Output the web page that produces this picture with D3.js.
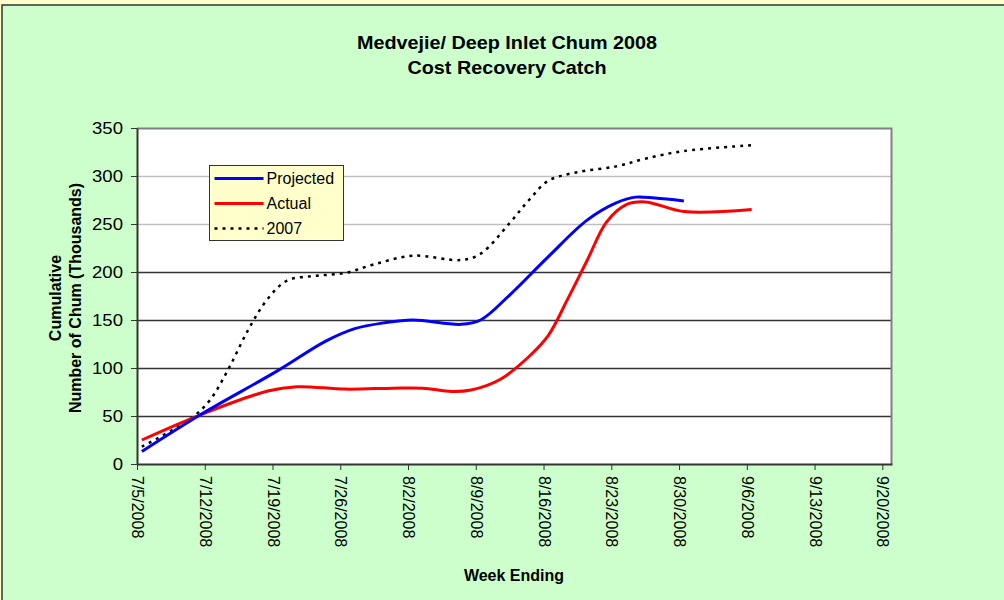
<!DOCTYPE html>
<html lang="en">
<head>
  <meta charset="UTF-8">
  <title>Medvejie/ Deep Inlet Chum 2008</title>
  <style>
    * { margin: 0; }
    body { background: #fff; font-family: "Liberation Sans", Arial, Helvetica, sans-serif; }
    svg { display: block; }
    .tick text { font-size: 16px; fill: #000; }
  </style>
</head>
<body>
  <div id="chart"></div>
  <script src="https://cdnjs.cloudflare.com/ajax/libs/d3/7.8.5/d3.min.js"></script>
  <script>
    // week ending tick labels and y ticks
    const weekTicks = ['7/5/2008', '7/12/2008', '7/19/2008', '7/26/2008', '8/2/2008', '8/9/2008',
      '8/16/2008', '8/23/2008', '8/30/2008', '9/6/2008', '9/13/2008', '9/20/2008'];
    const yTicks = [0, 50, 100, 150, 200, 250, 300, 350];

    // Projected (thousands)
    const projDates = ['7/5/2008', '7/11/2008', '7/19/2008', '7/24/2008', '7/27/2008', '7/30/2008',
      '8/2/2008', '8/7/2008', '8/9/2008', '8/12/2008', '8/16/2008', '8/20/2008', '8/23/2008',
      '8/25/2008', '8/27/2008', '8/30/2008'];
    const projValues = [13, 51, 97, 128, 141, 147, 150, 145.5, 150, 176, 216, 254, 272, 278, 277, 274];

    // Actual (thousands)
    const actDates = ['7/5/2008', '7/11/2008', '7/18/2008', '7/21/2008', '7/26/2008',
      '7/31/2008', '8/3/2008', '8/6/2008', '8/8/2008', '8/11/2008', '8/14/2008', '8/16/2008',
      '8/18/2008', '8/20/2008', '8/22/2008', '8/24/2008', '8/26/2008', '8/30/2008', '9/6/2008'];
    const actValues = [25, 51, 76, 80.5, 78, 79, 79, 75.5, 77, 88, 112, 134, 172, 212, 252, 270, 273, 263, 265];

    // 2007 (thousands)
    const prevDates = ['7/5/2008', '7/10/2008', '7/12/2008', '7/14/2008', '7/16/2008', '7/18/2008',
      '7/20/2008', '7/23/2008', '7/26/2008', '7/29/2008', '8/2/2008', '8/7/2008', '8/9/2008',
      '8/12/2008', '8/14/2008', '8/16/2008', '8/19/2008', '8/23/2008', '8/26/2008', '8/30/2008', '9/6/2008'];
    const prevValues = [18, 47, 66, 100, 140, 172, 191, 196, 199, 208, 217, 212.5, 219, 251, 275, 295, 304, 310, 318, 326, 332];

    const parse = d3.timeParse('%m/%d/%Y');
    const width = 1004, height = 600;
    const plot = { left: 137, top: 128, right: 892, bottom: 464 };

    const svg = d3.select('#chart')
      .append('svg')
      .attr('width', width)
      .attr('height', height);

    // chart area
    svg.append('rect').attr('width', width).attr('height', height).attr('fill', '#ffffcc');
    svg.append('rect')
      .attr('x', 2).attr('y', 5)
      .attr('width', width + 10).attr('height', height + 10)
      .attr('fill', '#ccffcc')
      .attr('stroke', '#333').attr('stroke-width', 1.5);

    const x = d3.scaleTime()
      .domain([parse('7/5/2008'), parse('9/21/2008')])
      .range([plot.left, plot.right]);
    const y = d3.scaleLinear()
      .domain([0, 350])
      .range([plot.bottom, plot.top]);

    svg.append('rect')
      .attr('x', plot.left).attr('y', plot.top)
      .attr('width', plot.right - plot.left).attr('height', plot.bottom - plot.top)
      .attr('fill', '#fff');

    // gridlines
    svg.append('g')
      .selectAll('line')
      .data(yTicks.filter(d => d > 0 && d < 350))
      .join('line')
      .attr('x1', plot.left).attr('x2', plot.right)
      .attr('y1', d => Math.round(y(d)) + 0.5).attr('y2', d => Math.round(y(d)) + 0.5)
      .attr('stroke', d => d > 200 ? '#c0c0c0' : '#333')
      .attr('stroke-width', 1.3);

    // plot border top/right
    svg.append('path')
      .attr('d', `M${plot.left},${plot.top + 0.5}H${plot.right - 0.5}V${plot.bottom}`)
      .attr('fill', 'none').attr('stroke', '#808080').attr('stroke-width', 2);

    // y axis
    const yAxis = svg.append('g')
      .attr('transform', `translate(${plot.left},0)`)
      .call(d3.axisLeft(y).tickValues(yTicks).tickSize(6).tickSizeOuter(0));
    yAxis.select('.domain').attr('stroke', '#333').attr('stroke-width', 2);
    yAxis.selectAll('.tick line').attr('stroke', '#333');
    yAxis.selectAll('.tick text')
      .attr('font-family', '"Liberation Sans", Arial, sans-serif')
      .attr('x', 0)
      .attr('transform', 'translate(-14,0) scale(1.16,1)');

    // x axis
    const xAxis = svg.append('g')
      .attr('transform', `translate(0,${plot.bottom})`)
      .call(d3.axisBottom(x).tickValues(weekTicks.map(parse)).tickSize(6).tickSizeOuter(0)
        .tickFormat(d3.timeFormat('%-m/%-d/%Y')));
    xAxis.select('.domain').attr('stroke', '#333').attr('stroke-width', 2);
    xAxis.selectAll('.tick line').attr('stroke', '#333');
    xAxis.selectAll('.tick text')
      .attr('font-family', '"Liberation Sans", Arial, sans-serif')
      .attr('x', 0).attr('y', 0).attr('dy', 0)
      .attr('transform', 'translate(0,12) rotate(90)')
      .attr('text-anchor', 'start')
      .attr('dominant-baseline', 'central');

    // lines
    const mid = d => d3.timeHour.offset(d, 12);
    const line = d3.line()
      .x(d => x(mid(d.date)))
      .y(d => y(d.value))
      .curve(d3.curveCatmullRom.alpha(0.5));

    const series = [
      { dates: prevDates, values: prevValues, color: '#000', width: 2.5, dash: '3,5' },
      { dates: actDates, values: actValues, color: '#ff0000', width: 3, dash: null },
      { dates: projDates, values: projValues, color: '#0000ff', width: 3, dash: null }
    ];

    series.forEach(s => {
      const pts = s.dates.map((d, i) => ({ date: parse(d), value: s.values[i] }));
      svg.append('path')
        .datum(pts)
        .attr('d', line)
        .attr('fill', 'none')
        .attr('stroke', s.color)
        .attr('stroke-width', s.width)
        .attr('stroke-dasharray', s.dash);
    });

    // legend
    const legend = svg.append('g').attr('transform', 'translate(209.5,165.5)');
    legend.append('rect')
      .attr('width', 134).attr('height', 75)
      .attr('fill', '#ffffcc').attr('stroke', '#333').attr('stroke-width', 1);
    const legendItems = [
      { name: 'Projected', color: '#0000ff', width: 3, dash: null },
      { name: 'Actual', color: '#ff0000', width: 3, dash: null },
      { name: '2007', color: '#000', width: 2.5, dash: '3,5' }
    ];
    legendItems.forEach((d, i) => {
      const yy = 13 + i * 25;
      legend.append('line')
        .attr('x1', 5).attr('x2', 54).attr('y1', yy).attr('y2', yy)
        .attr('stroke', d.color).attr('stroke-width', d.width)
        .attr('stroke-dasharray', d.dash);
      legend.append('text')
        .attr('x', 57).attr('y', yy)
        .attr('dominant-baseline', 'central')
        .attr('font-size', 16)
        .text(d.name);
    });

    // titles
    svg.append('text')
      .attr('transform', 'translate(507,49) scale(1.1,1)')
      .attr('text-anchor', 'middle')
      .attr('font-size', 18).attr('font-weight', 'bold')
      .text('Medvejie/ Deep Inlet Chum 2008');
    svg.append('text')
      .attr('transform', 'translate(507,74) scale(1.1,1)')
      .attr('text-anchor', 'middle')
      .attr('font-size', 18).attr('font-weight', 'bold')
      .text('Cost Recovery Catch');

    svg.append('text')
      .attr('x', 514).attr('y', 581)
      .attr('text-anchor', 'middle')
      .attr('font-size', 16).attr('font-weight', 'bold')
      .text('Week Ending');

    const yTitle = svg.append('text')
      .attr('transform', 'translate(0,298) rotate(-90)')
      .attr('text-anchor', 'middle')
      .attr('font-size', 16).attr('font-weight', 'bold');
    yTitle.append('tspan').attr('x', 0).attr('y', 61).text('Cumulative');
    yTitle.append('tspan').attr('x', 0).attr('y', 81).text('Number of Chum (Thousands)');
  </script>
</body>
</html>
